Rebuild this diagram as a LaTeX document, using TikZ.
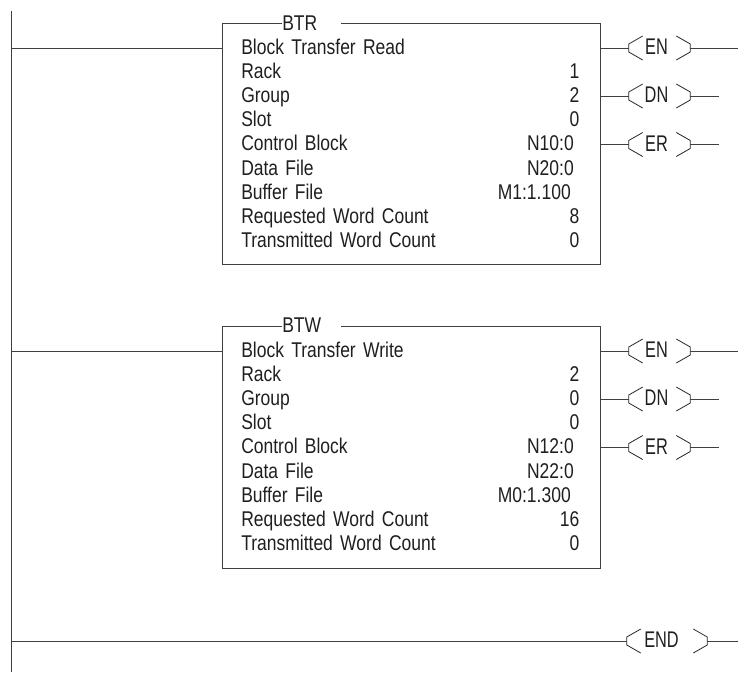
\documentclass[tikz,border=0pt]{standalone}
\usepackage{fontspec}
\setmainfont[FakeStretch=0.82,WordSpace=1.5]{Liberation Sans}
\newfontfamily\coilfont[FakeStretch=0.72]{Liberation Sans}
\newcommand{\coilbr}[1]{%
  \draw[brk] ([shift={(14,-12)}]#1.west) -- ([shift={(0,-4)}]#1.west) -- ([shift={(0,4)}]#1.west) -- ([shift={(14,12)}]#1.west);
  \draw[brk] ([shift={(-14,-12)}]#1.east) -- ([shift={(0,-4)}]#1.east) -- ([shift={(0,4)}]#1.east) -- ([shift={(-14,12)}]#1.east);}
\newcommand{\blocktext}[9]{%
  \node[lab] at (241,#1) {#2};
  \node[lab] at (241,#1+24.1) {Rack};
  \node[lab] at (241,#1+48.2) {Group};
  \node[lab] at (241,#1+72.3) {Slot};
  \node[lab] at (241,#1+96.4) {Control Block};
  \node[lab] at (241,#1+120.5) {Data File};
  \node[lab] at (241,#1+144.6) {Buffer File};
  \node[lab] at (241,#1+168.7) {Requested Word Count};
  \node[lab] at (241,#1+192.8) {Transmitted Word Count};
  \node[val] at (579.5,#1+24.1) {#3};
  \node[val] at (579.5,#1+48.2) {#4};
  \node[val] at (579.5,#1+72.3) {#5};
  \node[val] at (574,#1+96.4) {#6};
  \node[val] at (574,#1+120.5) {#7};
  \node[val] at (571,#1+144.6) {#8};
  \node[val] at (579.5,#1+168.7) {#9};
  \node[val] at (579.5,#1+192.8) {0};}
\begin{document}
\begin{tikzpicture}[x=0.75pt,y=-0.75pt,
  wire/.style={draw=black!75,line width=0.75pt},
  brk/.style={draw=black!85,line width=0.6pt},
  lab/.style={anchor=base west,inner sep=0pt,font=\fontsize{16pt}{16pt}\selectfont,text=black!88},
  val/.style={anchor=base east,inner sep=0pt,font=\fontsize{16pt}{16pt}\selectfont,text=black!88},
  title/.style={anchor=base west,inner sep=0pt,font=\fontsize{16pt}{16pt}\selectfont,text=black!88},
  coil/.style={inner sep=0pt,minimum height=18pt,text height=9.75pt,text depth=0pt,font=\coilfont\fontsize{17pt}{17pt}\selectfont,text=black!88}]
\useasboundingbox (0,0) rectangle (738,672);
\coordinate (railtop) at (11,11);
\coordinate (railbot) at (11,672);
\draw[wire] (railtop) -- (railbot);
% block 1
\coordinate (b1nw) at (222,23); \coordinate (b1se) at (600,264);
\coordinate (b1gap) at (341,23);
\node[title] (t1) at (282,30) {BTR};
\draw[wire] (t1.west |- b1nw) -- (b1nw) -- (b1nw |- b1se) -- (b1se) -- (b1se |- b1nw) -- (b1gap);
\blocktext{54.5}{Block Transfer Read}{1}{2}{0}{N10:0}{N20:0}{M1:1.100}{8}
% block 2
\coordinate (b2nw) at (222,326); \coordinate (b2se) at (600,568);
\coordinate (b2gap) at (341,326);
\node[title] (t2) at (282,332.5) {BTW};
\draw[wire] (t2.west |- b2nw) -- (b2nw) -- (b2nw |- b2se) -- (b2se) -- (b2se |- b2nw) -- (b2gap);
\blocktext{357.5}{Block Transfer Write}{2}{0}{0}{N12:0}{N22:0}{M0:1.300}{16}
% coils
\foreach \n/\t/\y/\e in {a/EN/48/738,b/DN/96/719,c/ER/144.5/719,d/EN/351/738,e/DN/399/719,f/ER/447.5/719}{
  \node[coil,minimum width=45.75pt] (\n) at (659.5,\y) {\t\kern4.5pt};
  \coilbr{\n}
  \coordinate (\n end) at (\e,\y);
  \draw[wire] (\n.east) -- (\n end);
}
\foreach \n in {a,b,c}{\draw[wire] (b1se |- \n) -- (\n.west);}
\foreach \n in {d,e,f}{\draw[wire] (b2se |- \n) -- (\n.west);}
\draw[wire] (railtop |- a) -- (b1nw |- a);
\draw[wire] (railtop |- d) -- (b2nw |- d);
\node[coil,minimum width=60pt] (g) at (667,641) {END\kern8.25pt};
\coilbr{g}
\coordinate (gend) at (738,641);
\coordinate (grail) at (11,641);
\draw[wire] (grail) -- (g.west);
\draw[wire] (g.east) -- (gend);
\end{tikzpicture}
\end{document}
